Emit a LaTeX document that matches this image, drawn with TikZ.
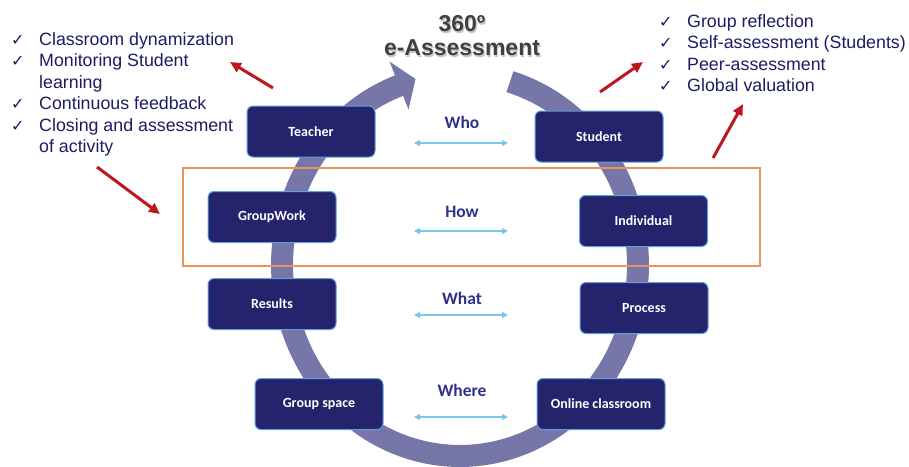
\documentclass[tikz,border=0pt]{standalone}
\usepackage{fontspec}
\setmainfont{Liberation Sans}
\newfontfamily\cardfont{Carlito}
\newfontfamily\tickfont{DejaVu Sans}
\usetikzlibrary{arrows.meta}
\definecolor{cardnavy}{RGB}{36,35,108}
\definecolor{cardedge}{RGB}{96,160,222}
\definecolor{ringblue}{RGB}{118,118,168}
\definecolor{boxorange}{RGB}{234,148,92}
\definecolor{pointred}{RGB}{190,22,30}
\definecolor{pairblue}{RGB}{126,196,232}
\definecolor{asknavy}{RGB}{46,48,140}
\definecolor{listnavy}{RGB}{28,28,100}
\definecolor{titlegray}{RGB}{64,64,64}
\newcommand{\makequestion}[4]{
	\node[question] (#1) at (462,#2) {#4};
	\coordinate (#1A) at (414,#3);
	\coordinate (#1B) at (508,#3);
	\draw[pairarrow] (#1A) -- (#1B);
}
\newcommand{\makecheck}[4]{
	\node[tick] (#1tick) at (#2-28,#3) {✓};
	\node[item] (#1) at (#2,#3) {#4};
}

\begin{document}
\begin{tikzpicture}[x=1pt,y=-1pt,
	card/.style={draw=cardedge, line width=1pt, fill=cardnavy, rounded corners=6pt,
		minimum width=128pt, minimum height=51pt, text=white,
		font=\cardfont\bfseries\fontsize{14}{16}\selectfont},
	question/.style={text=asknavy, font=\cardfont\bfseries\fontsize{17.5}{20}\selectfont},
	pairarrow/.style={pairblue, line width=1.4pt, {Triangle[length=6pt,width=6pt]}-{Triangle[length=6pt,width=6pt]}},
	pointer/.style={pointred, line width=3pt, -{Triangle[length=11pt,width=10pt]}},
	ring/.style={ringblue, line width=22pt},
	tick/.style={anchor=base west, inner sep=0pt, text=listnavy, font=\tickfont\fontsize{16}{18}\selectfont},
	item/.style={anchor=base west, inner sep=0pt, text=listnavy, font=\fontsize{17.8}{21}\selectfont},
	heading/.style={anchor=base, inner sep=0pt, font=\bfseries\fontsize{23}{26}\selectfont}]
	\useasboundingbox (0,0) rectangle (909,466);

	% circular arrow
	\draw[ring] plot[domain=-73.7:251, samples=140] ({460+178*cos(\x)},{265+191*sin(\x)});
	\coordinate (headL) at (389.5,61.5);
	\coordinate (headR) at (408.5,109.5);
	\coordinate (headTip) at (415.5,79);
	\fill[ringblue] (headL) -- (headTip) -- (headR) -- cycle;

	\draw[boxorange, line width=2.2pt] (183,168) rectangle (760,266);

	\node[heading, text=black!22] (titleAs) at (463.2,33) {360º};
	\node[heading, text=black!22] (titleBs) at (463.2,57) {e-Assessment};
	\node[heading, text=titlegray] (titleA) at (462,31.5) {360º};
	\node[heading, text=titlegray] (titleB) at (462,55.5) {e-Assessment};

	\node[card] (teacher) at (311,131.5) {Teacher};
	\node[card] (student) at (599,136.5) {Student};
	\node[card] (groupwork) at (272,217) {GroupWork};
	\node[card] (individual) at (643.5,221) {Individual};
	\node[card] (results) at (272,304) {Results};
	\node[card] (process) at (644,308) {Process};
	\node[card] (groupspace) at (319,404) {Group space};
	\node[card] (online) at (601,404) {Online classroom};

	\makequestion{who}{122}{143}{Who}
	\makequestion{how}{212}{231}{How}
	\makequestion{what}{298}{315}{What}
	\makequestion{where}{390}{417}{Where}

	\makecheck{dynamization}{39}{45}{Classroom dynamization}
	\makecheck{monitoring}{39}{66.5}{Monitoring Student}
	\node[item] (learning) at (39,88) {learning};
	\makecheck{feedback}{39}{109.5}{Continuous feedback}
	\makecheck{closing}{39}{131}{Closing and assessment}
	\node[item] (activity) at (39,152.5) {of activity};

	\makecheck{reflection}{687}{27}{Group reflection}
	\makecheck{selfassess}{687}{48.5}{Self-assessment (Students)}
	\makecheck{peerassess}{687}{70}{Peer-assessment}
	\makecheck{valuation}{687}{91.5}{Global valuation}

	\coordinate (teacherFrom) at (273,88);
	\coordinate (teacherTo) at (230,62);
	\coordinate (groupFrom) at (97,167);
	\coordinate (groupTo) at (160,214);
	\coordinate (studentFrom) at (600,92);
	\coordinate (studentTo) at (643,62);
	\coordinate (indivFrom) at (713,158);
	\coordinate (indivTo) at (743,104);
	\draw[pointer] (teacherFrom) -- (teacherTo);
	\draw[pointer] (groupFrom) -- (groupTo);
	\draw[pointer] (studentFrom) -- (studentTo);
	\draw[pointer] (indivFrom) -- (indivTo);
\end{tikzpicture}
\end{document}
